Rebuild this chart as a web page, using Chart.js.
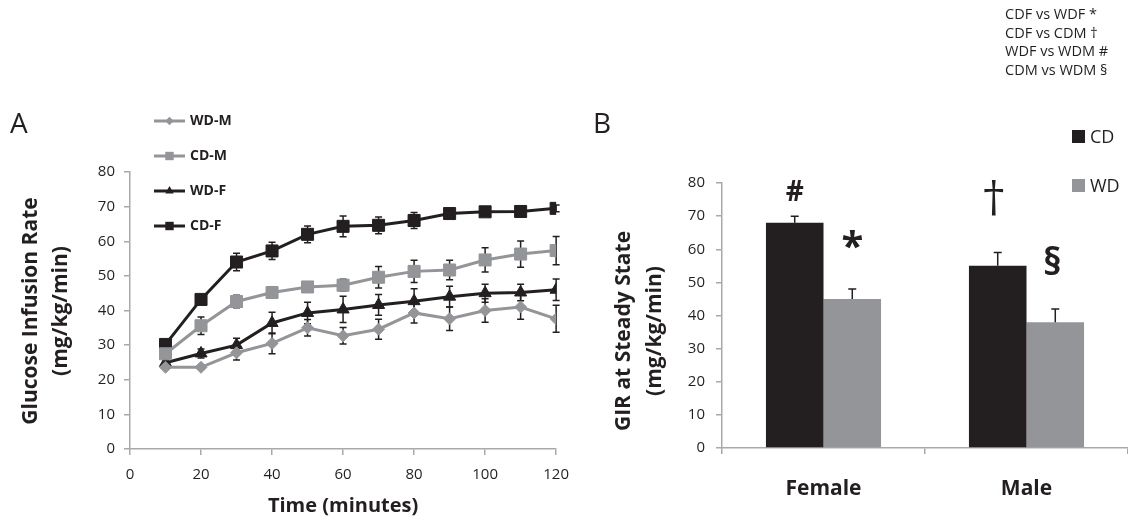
<!DOCTYPE html>
<html>
<head>
<meta charset="utf-8">
<script src="https://cdn.jsdelivr.net/npm/chart.js@4.4.1/dist/chart.umd.min.js"></script>
<style>
  body { margin: 0; background: #fff; font-family: "Open Sans", sans-serif; }
  #wrap { position: relative; width: 1128px; height: 521px; overflow: hidden; }
  canvas { position: absolute; top: 0; }
  #chartA { left: 0; }
  #chartB { left: 580px; }
  .letter { position: absolute; top: 108px; font-size: 28px; line-height: 1; color: #231f20; }
  #notes { position: absolute; left: 1005px; top: 5px; font-size: 14.5px; line-height: 18.5px; color: #231f20; white-space: nowrap; }
</style>
</head>
<body>
<div id="wrap">
  <canvas id="chartA" width="580" height="521"></canvas>
  <canvas id="chartB" width="548" height="521"></canvas>
  <div class="letter" style="left:10px">A</div>
  <div class="letter" style="left:593px">B</div>
  <div id="notes">CDF vs WDF *<br>CDF vs CDM †<br>WDF vs WDM #<br>CDM vs WDM §</div>
</div>
<script>
// Panel A: glucose infusion rate over time (mean, +/- error)
const times = [10, 20, 30, 40, 50, 60, 70, 80, 90, 100, 110, 120];
const wdM = [23.6, 23.6, 27.8, 30.5, 35.0, 32.7, 34.6, 39.3, 37.6, 40.0, 41.0, 37.6];
const wdMErr = [0.5, 0.5, 2.1, 3.0, 2.4, 2.4, 2.9, 2.9, 3.4, 3.4, 3.5, 3.9];
const cdM = [27.5, 35.6, 42.6, 45.2, 46.8, 47.3, 49.6, 51.3, 51.7, 54.6, 56.3, 57.3];
const cdMErr = [0.5, 2.5, 1.8, 1.5, 1.5, 1.7, 3.1, 3.2, 2.8, 3.5, 3.8, 4.1];
const wdF = [24.9, 27.6, 30.0, 36.4, 39.3, 40.3, 41.6, 42.7, 44.0, 45.0, 45.2, 46.0];
const wdFErr = [0.5, 1.3, 2.0, 3.1, 3.1, 3.8, 3.0, 3.6, 3.0, 2.6, 2.4, 3.1];
const cdF = [30.2, 43.2, 54.0, 57.2, 62.0, 64.3, 64.6, 66.0, 68.0, 68.5, 68.6, 69.5];
const cdFErr = [0.5, 0.5, 2.5, 2.5, 2.4, 3.0, 2.4, 2.3, 1.0, 1.0, 1.0, 1.0];

// Panel B: GIR at steady state
const groups = ['Female', 'Male'];
const cdBar = [68, 55];
const cdBarErr = [2, 4];
const wdBar = [45, 38];
const wdBarErr = [3, 4];
// significance marks above each bar, and the height (in y units) they sit at
const cdMarks = ['#', '†'];
const cdMarkAt = [76.9, 74.8];
const wdMarks = ['*', '§'];
const wdMarkAt = [62.7, 55.5];

const dark = '#231f20';
const gray = '#939598';
const axisGray = '#a7a9ac';
const tickFont = { family: 'Open Sans', size: 15 };

// error bars drawn from each dataset's "errors" array
const errorBars = {
  id: 'errorBars',
  beforeDatasetsDraw(chart, args, o) {
    if (!o.under) return;
    drawErrors(chart, o);
  },
  afterDatasetsDraw(chart, args, o) {
    if (o.under) return;
    drawErrors(chart, o);
  }
};
function drawErrors(chart, o) {
  const ctx = chart.ctx;
  const y = chart.scales.y;
  ctx.save();
  ctx.strokeStyle = dark;
  ctx.lineWidth = 1.5;
  chart.data.datasets.forEach((ds, i) => {
    const meta = chart.getDatasetMeta(i);
    meta.data.forEach((el, j) => {
      const v = ds.data[j], e = ds.errors[j];
      const top = y.getPixelForValue(v + e);
      const bot = o.upOnly ? y.getPixelForValue(v) : y.getPixelForValue(v - e);
      ctx.beginPath();
      ctx.moveTo(el.x, top); ctx.lineTo(el.x, bot);
      ctx.moveTo(el.x - o.cap, top); ctx.lineTo(el.x + o.cap, top);
      if (!o.upOnly) { ctx.moveTo(el.x - o.cap, bot); ctx.lineTo(el.x + o.cap, bot); }
      ctx.stroke();
    });
  });
  ctx.restore();
}

// rotated two-line y axis title
const yTitle = {
  id: 'yTitle',
  afterDraw(chart, args, o) {
    const ctx = chart.ctx;
    ctx.save();
    ctx.translate(o.x, o.y);
    ctx.rotate(-Math.PI / 2);
    ctx.font = 'bold 21px "Open Sans"';
    ctx.fillStyle = dark;
    ctx.textAlign = 'center';
    ctx.textBaseline = 'middle';
    o.lines.forEach((t, i) => ctx.fillText(t, 0, i * o.lineHeight));
    ctx.restore();
  }
};

// legend of panel A: line + marker + bold label, stacked
const lineLegend = {
  id: 'lineLegend',
  afterDraw(chart, args, o) {
    const ctx = chart.ctx;
    ctx.save();
    chart.data.datasets.forEach((ds, i) => {
      const y = o.top + i * o.step;
      ctx.strokeStyle = ds.borderColor;
      ctx.lineWidth = 3;
      ctx.beginPath(); ctx.moveTo(o.x, y); ctx.lineTo(o.x + o.len, y); ctx.stroke();
      ctx.fillStyle = ds.borderColor;
      ctx.lineWidth = 1;
      Chart.helpers.drawPoint(ctx, { pointStyle: ds.pointStyle, radius: ds.pointRadius * 0.7, rotation: 0 }, o.x + o.len / 2, y);
      ctx.fillStyle = dark;
      ctx.font = 'bold 14px "Open Sans"';
      ctx.textBaseline = 'middle';
      ctx.fillText(ds.label, o.x + o.len + 5, y);
    });
    ctx.restore();
  }
};

// legend of panel B: squares
const boxLegend = {
  id: 'boxLegend',
  afterDraw(chart, args, o) {
    const ctx = chart.ctx;
    ctx.save();
    chart.data.datasets.forEach((ds, i) => {
      const y = o.top + i * o.step;
      ctx.fillStyle = ds.backgroundColor;
      ctx.fillRect(o.x, y - 6.5, 13, 13);
      ctx.fillStyle = dark;
      ctx.font = '18px "Open Sans"';
      ctx.textBaseline = 'middle';
      ctx.fillText(ds.label, o.x + 18, y + 1);
    });
    ctx.restore();
  }
};

// significance symbols above the bars
const marks = {
  id: 'marks',
  afterDraw(chart, args, o) {
    const ctx = chart.ctx;
    const y = chart.scales.y;
    ctx.save();
    ctx.fillStyle = dark;
    ctx.textAlign = 'center';
    ctx.textBaseline = 'middle';
    chart.data.datasets.forEach((ds, i) => {
      const meta = chart.getDatasetMeta(i);
      ds.marks.forEach((m, j) => {
        const st = o.styles[m];
        ctx.font = st.font;
        ctx.fillText(m, meta.data[j].x + st.dx, y.getPixelForValue(ds.markAt[j]) + st.dy);
      });
    });
    ctx.restore();
  }
};

new Chart(document.getElementById('chartA'), {
  type: 'line',
  data: {
    labels: times,
    datasets: [
      { label: 'WD-M', data: wdM, errors: wdMErr, borderColor: gray, backgroundColor: gray, pointStyle: 'rectRot', pointRadius: 6 },
      { label: 'CD-M', data: cdM, errors: cdMErr, borderColor: gray, backgroundColor: gray, pointStyle: 'rect', pointRadius: 8.5 },
      { label: 'WD-F', data: wdF, errors: wdFErr, borderColor: dark, backgroundColor: dark, pointStyle: 'triangle', pointRadius: 7 },
      { label: 'CD-F', data: cdF, errors: cdFErr, borderColor: dark, backgroundColor: dark, pointStyle: 'rect', pointRadius: 8.5 }
    ]
  },
  options: {
    responsive: false,
    animation: false,
    datasets: { line: { borderWidth: 3, pointBorderWidth: 1, tension: 0 } },
    layout: { padding: { top: 172, right: 23, left: 0, bottom: 0 } },
    plugins: {
      legend: { display: false },
      tooltip: { enabled: false },
      errorBars: { cap: 3.5, under: true },
      yTitle: { x: 31.5, y: 311, lineHeight: 29.5, lines: ['Glucose Infusion Rate', '(mg/kg/min)'] },
      lineLegend: { x: 154, len: 31, top: 121, step: 35 }
    },
    scales: {
      x: {
        type: 'linear', min: 0, max: 120,
        ticks: { stepSize: 20, font: tickFont, color: dark, padding: 11 },
        grid: { drawOnChartArea: false, tickLength: 6, color: axisGray, lineWidth: 1.5 },
        border: { color: axisGray, width: 1.5 },
        title: { display: true, text: 'Time (minutes)', color: dark, font: { family: 'Open Sans', size: 20, weight: 'bold' }, padding: { top: 0, bottom: 3 } },
        afterFit(s) { s.height = 72; }
      },
      y: {
        min: 0, max: 80,
        ticks: { stepSize: 10, font: tickFont, color: dark, padding: 9 },
        grid: { drawOnChartArea: false, tickLength: 6, color: axisGray, lineWidth: 1.5 },
        border: { color: axisGray, width: 1.5 },
        afterFit(s) { s.width = 130; }
      }
    }
  },
  plugins: [errorBars, yTitle, lineLegend]
});

new Chart(document.getElementById('chartB'), {
  type: 'bar',
  data: {
    labels: groups,
    datasets: [
      { label: 'CD', data: cdBar, errors: cdBarErr, marks: cdMarks, markAt: cdMarkAt, backgroundColor: dark },
      { label: 'WD', data: wdBar, errors: wdBarErr, marks: wdMarks, markAt: wdMarkAt, backgroundColor: gray }
    ]
  },
  options: {
    responsive: false,
    animation: false,
    datasets: { bar: { barPercentage: 1, categoryPercentage: 0.567 } },
    layout: { padding: { top: 183, right: 0, left: 0, bottom: 0 } },
    plugins: {
      legend: { display: false },
      tooltip: { enabled: false },
      errorBars: { cap: 4, upOnly: true },
      yTitle: { x: 44, y: 331, lineHeight: 31, lines: ['GIR at Steady State', '(mg/kg/min)'] },
      boxLegend: { x: 492, top: 136.5, step: 49 },
      marks: {
        styles: {
          '#': { font: 'bold 28px "Open Sans"', dx: 0, dy: 0 },
          '*': { font: 'bold 40px "Open Sans"', dx: 0, dy: 8 },
          '†': { font: '42px "DejaVu Serif"', dx: -4, dy: 0 },
          '§': { font: 'bold 38px "Open Sans"', dx: -3, dy: 0 }
        }
      }
    },
    scales: {
      x: {
        offset: true,
        ticks: { font: { family: 'Open Sans', size: 21, weight: 'bold' }, color: dark, padding: 22 },
        grid: { offset: true, drawOnChartArea: false, tickLength: 6, color: axisGray, lineWidth: 1.5 },
        border: { color: axisGray, width: 1.5 },
        afterFit(s) { s.height = 73; }
      },
      y: {
        min: 0, max: 80,
        ticks: { stepSize: 10, font: tickFont, color: dark, padding: 11 },
        grid: { drawOnChartArea: false, tickLength: 6, color: axisGray, lineWidth: 1.5 },
        border: { color: axisGray, width: 1.5 },
        afterFit(s) { s.width = 142; }
      }
    }
  },
  plugins: [errorBars, yTitle, boxLegend, marks]
});
</script>
</body>
</html>
